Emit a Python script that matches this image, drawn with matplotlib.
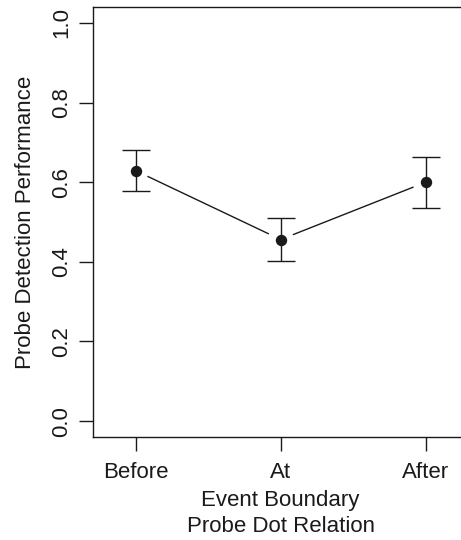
import numpy as np
import matplotlib.pyplot as plt

plt.rcParams['font.family'] = ['Liberation Sans', 'DejaVu Sans']

# Data
conditions = ['Before', 'At', 'After']
performance = [0.629, 0.456, 0.600]
upper = [0.680, 0.509, 0.664]
lower = [0.578, 0.402, 0.535]

ink = '#1a1a1a'
x = np.arange(1, len(conditions) + 1)
y = np.array(performance)
err = [y - np.array(lower), np.array(upper) - y]

fig = plt.figure(figsize=(4.61, 5.4), dpi=100)
ax = fig.add_axes([0.201, 0.1907, 0.8157, 0.7963])
ax.set_xlim(0.704, 3.296)
ax.set_ylim(-0.04, 1.04)

# error bars and points
ax.errorbar(x, y, yerr=err, fmt='o', color=ink, markersize=7.2,
            capsize=9.8, elinewidth=1.0, capthick=1.0, zorder=3)

# connecting lines with gaps around the points (R type="b")
gap = 13.8
pts = ax.transData.transform(np.column_stack([x, y]))
inv = ax.transData.inverted()
for (p0, p1) in zip(pts[:-1], pts[1:]):
    d = p1 - p0
    u = d / np.hypot(*d)
    a = inv.transform(p0 + u * gap)
    b = inv.transform(p1 - u * gap)
    ax.plot([a[0], b[0]], [a[1], b[1]], color=ink, lw=1.0)

ax.set_xticks(x)
ax.set_xticklabels(conditions)
ax.set_yticks([0.0, 0.2, 0.4, 0.6, 0.8, 1.0])
ax.set_yticklabels(['0.0', '0.2', '0.4', '0.6', '0.8', '1.0'], rotation=90, va='center')
ax.tick_params(length=10, width=1.0, colors=ink, labelsize=16)
ax.tick_params(axis='x', pad=8)
ax.tick_params(axis='y', pad=5)
for s in ax.spines.values():
    s.set_color(ink)
    s.set_linewidth(1.0)

ax.set_xlabel('Event Boundary\nProbe Dot Relation', fontsize=16, color=ink,
              linespacing=1.33, labelpad=5)
ax.set_ylabel('Probe Detection Performance', fontsize=16, color=ink, labelpad=11)

fig.savefig('out.png', dpi=100)
